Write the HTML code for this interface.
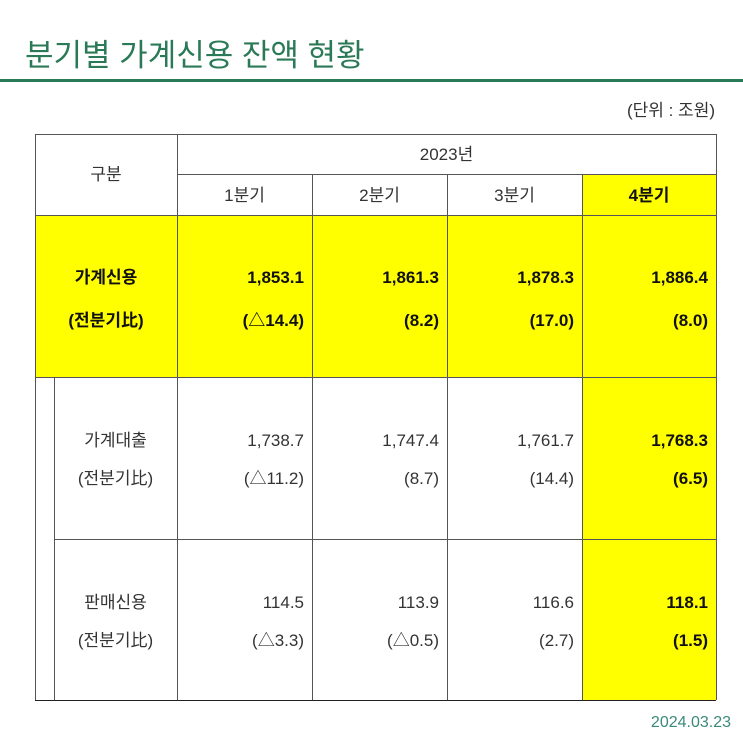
<!DOCTYPE html>
<html><head><meta charset="utf-8"><style>
body{margin:0;width:743px;height:743px;background:#fff;position:relative;overflow:hidden;font-family:"Liberation Sans","Noto Sans CJK KR",sans-serif;color:#333}
.a{position:absolute}
.t{position:absolute;font-size:17px;white-space:nowrap;line-height:20px}
.c{text-align:center}
.r{text-align:right}
.b{font-weight:bold;color:#111}
.h{position:absolute;height:1px;background:#555}
.v{position:absolute;width:1px;background:#555}
.y{position:absolute;background:#ffff00}
</style></head><body>
<div class="t" style="left:25px;top:38px;font-size:31px;line-height:36px;color:#2b7a57">분기별 가계신용 잔액 현황</div>
<div class="a" style="left:0;top:79px;width:743px;height:3px;background:#2b7a57"></div>
<div class="t" style="right:28px;top:101px;">(단위 : 조원)</div>

<div class="y" style="left:35px;top:215px;width:681px;height:162px"></div>
<div class="y" style="left:582px;top:174px;width:134px;height:41px"></div>
<div class="y" style="left:582px;top:377px;width:134px;height:323px"></div>

<div class="h" style="left:35px;top:134px;width:681px"></div>
<div class="h" style="left:177px;top:174px;width:539px"></div>
<div class="h" style="left:35px;top:215px;width:681px"></div>
<div class="h" style="left:35px;top:377px;width:681px"></div>
<div class="h" style="left:54px;top:539px;width:662px"></div>
<div class="h" style="left:35px;top:700px;width:681px;background:#222"></div>
<div class="v" style="left:35px;top:134px;height:566px"></div>
<div class="v" style="left:54px;top:377px;height:323px"></div>
<div class="v" style="left:177px;top:134px;height:566px"></div>
<div class="v" style="left:312px;top:174px;height:526px"></div>
<div class="v" style="left:447px;top:174px;height:526px"></div>
<div class="v" style="left:582px;top:174px;height:526px"></div>
<div class="v" style="left:716px;top:134px;height:566px"></div>

<div class="t c" style="left:35px;width:142px;top:165px">구분</div>
<div class="t c" style="left:177px;width:539px;top:145px">2023년</div>
<div class="t c" style="left:177px;width:135px;top:186px">1분기</div>
<div class="t c" style="left:312px;width:135px;top:186px">2분기</div>
<div class="t c" style="left:447px;width:135px;top:186px">3분기</div>
<div class="t c b" style="left:582px;width:134px;top:186px">4분기</div>

<div class="t c b" style="left:35px;width:142px;top:256px;line-height:43px">가계신용<br>(전분기比)</div>
<div class="t c" style="left:54px;width:123px;top:422px;line-height:38px">가계대출<br>(전분기比)</div>
<div class="t c" style="left:54px;width:123px;top:584px;line-height:38px">판매신용<br>(전분기比)</div>

<div class="t r b" style="left:177px;width:127px;top:256px;line-height:43px">1,853.1<br>(△14.4)</div>
<div class="t r b" style="left:312px;width:127px;top:256px;line-height:43px">1,861.3<br>(8.2)</div>
<div class="t r b" style="left:447px;width:127px;top:256px;line-height:43px">1,878.3<br>(17.0)</div>
<div class="t r b" style="left:582px;width:126px;top:256px;line-height:43px">1,886.4<br>(8.0)</div>

<div class="t r" style="left:177px;width:127px;top:422px;line-height:38px">1,738.7<br>(△11.2)</div>
<div class="t r" style="left:312px;width:127px;top:422px;line-height:38px">1,747.4<br>(8.7)</div>
<div class="t r" style="left:447px;width:127px;top:422px;line-height:38px">1,761.7<br>(14.4)</div>
<div class="t r b" style="left:582px;width:126px;top:422px;line-height:38px">1,768.3<br>(6.5)</div>

<div class="t r" style="left:177px;width:127px;top:584px;line-height:38px">114.5<br>(△3.3)</div>
<div class="t r" style="left:312px;width:127px;top:584px;line-height:38px">113.9<br>(△0.5)</div>
<div class="t r" style="left:447px;width:127px;top:584px;line-height:38px">116.6<br>(2.7)</div>
<div class="t r b" style="left:582px;width:126px;top:584px;line-height:38px">118.1<br>(1.5)</div>

<div class="t" style="right:12px;top:713px;font-size:16px;color:#3a8a78">2024.03.23</div>
</body></html>
